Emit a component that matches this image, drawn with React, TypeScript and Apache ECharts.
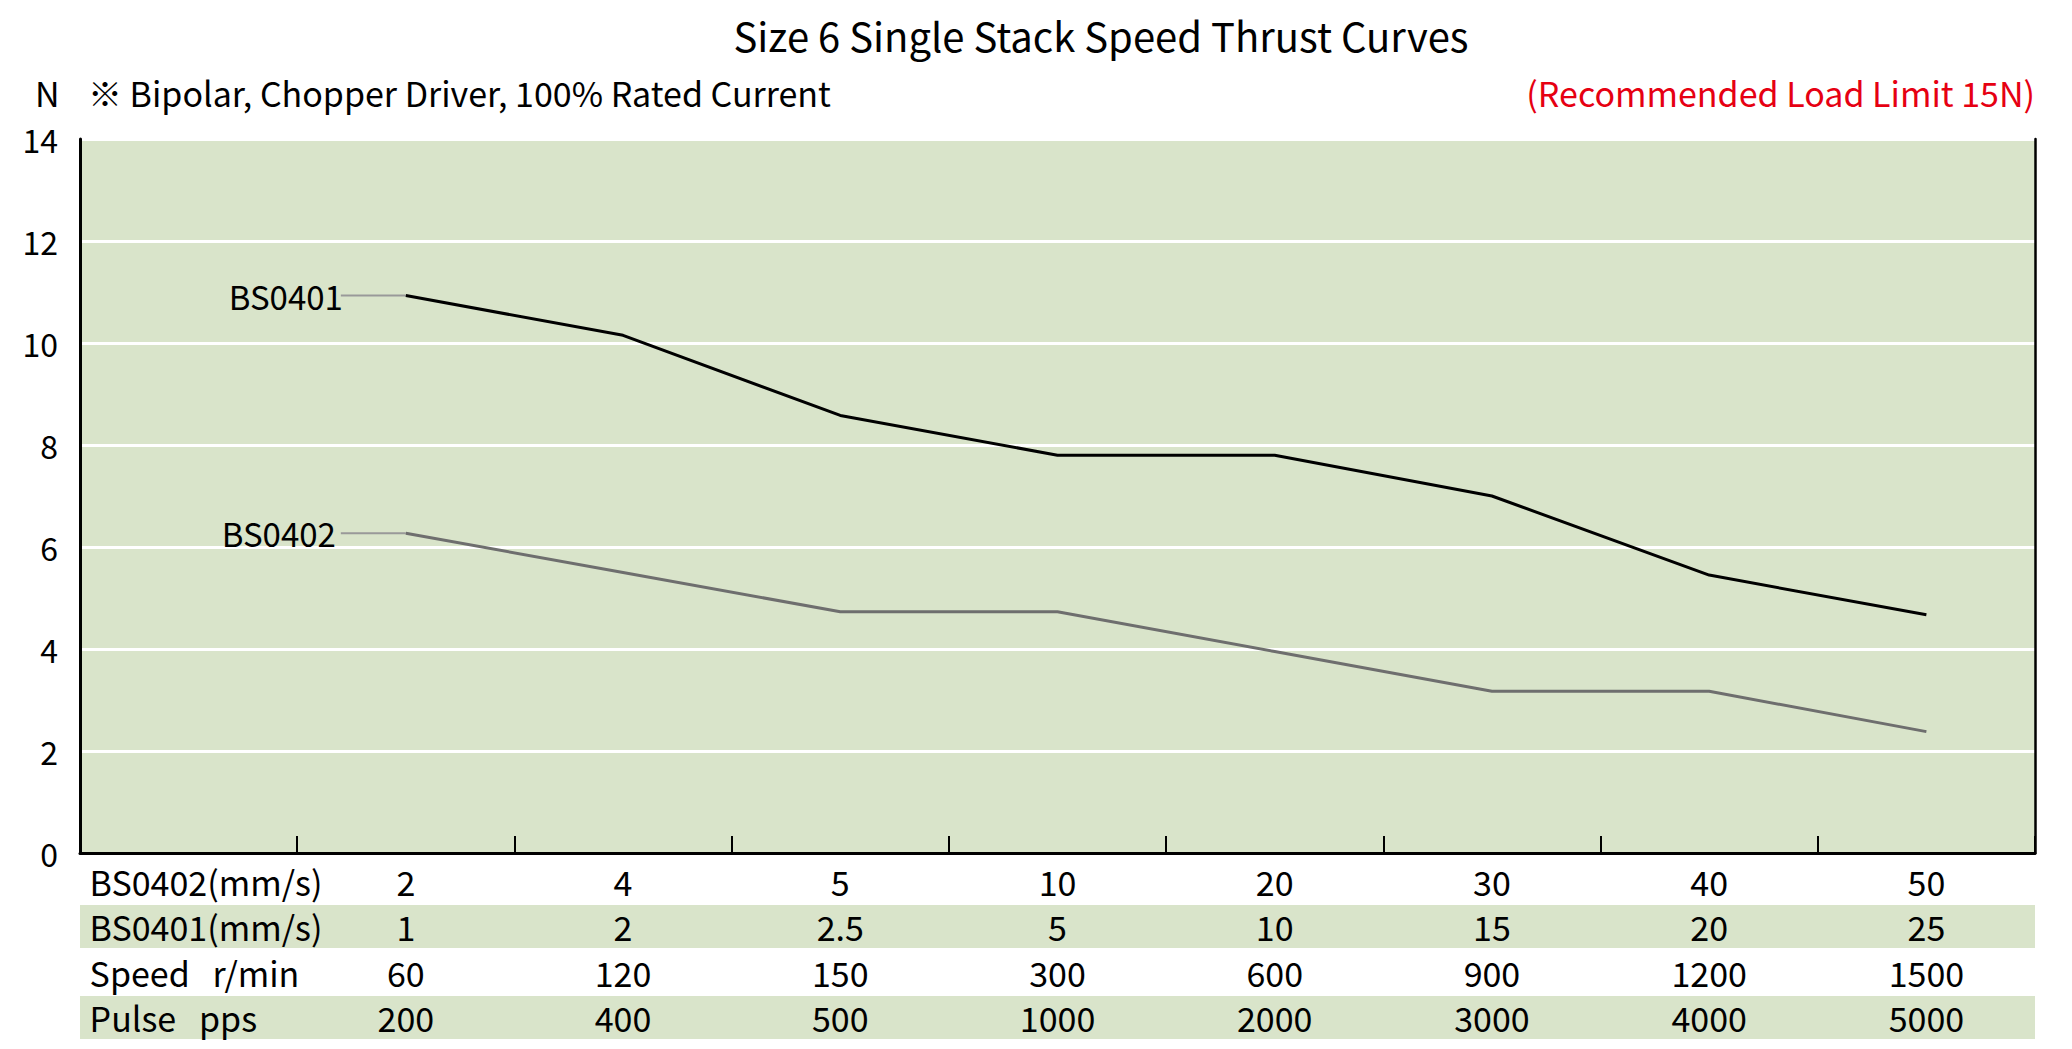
import React, { useEffect, useRef } from 'react';
import * as echarts from 'echarts';

const W = 2072;
const H = 1049;
const FONT = '"Noto Sans CJK SC", "Noto Sans", sans-serif';

const chartTitle = 'Size 6 Single Stack Speed Thrust Curves';
const yUnit = 'N';
const noteText = '※ Bipolar, Chopper Driver, 100% Rated Current';
const limitText = '(Recommended Load Limit 15N)';

const rowLabels = ['BS0402(mm/s)', 'BS0401(mm/s)', 'Speed   r/min', 'Pulse   pps'];
const bs0402Speeds = ['2', '4', '5', '10', '20', '30', '40', '50'];
const bs0401Speeds = ['1', '2', '2.5', '5', '10', '15', '20', '25'];
const speedRpm = ['60', '120', '150', '300', '600', '900', '1200', '1500'];
const pulsePps = ['200', '400', '500', '1000', '2000', '3000', '4000', '5000'];

const bs0401Thrust = [10.93, 10.15, 8.58, 7.8, 7.8, 7.0, 5.45, 4.67];
const bs0402Thrust = [6.27, 5.5, 4.73, 4.73, 3.95, 3.17, 3.17, 2.38];

const yTicks = [0, 2, 4, 6, 8, 10, 12, 14];

export default function App() {
  const ref = useRef<HTMLDivElement>(null);
  useEffect(() => {
    const chart = echarts.init(ref.current!, null, { renderer: 'svg' });
    const gridLeft = 80;
    const gridRight = 37;
    const gridTop = 139;
    const gridBottom = 196;
    const categories = ['label', ...pulsePps];
    const rows = [bs0402Speeds, bs0401Speeds, speedRpm, pulsePps];
    const rowPitch = 45.5;
    const fs = 32;
    const tfs = 34;
    const lh = 40;
    const labelMargin = 8;

    const xAxes = rows.map((vals, r) => ({
      type: 'category',
      data: categories,
      position: 'bottom',
      offset: r * rowPitch,
      boundaryGap: true,
      axisLine: r === 0 ? { show: true, lineStyle: { color: '#000', width: 3 } } : { show: false },
      axisTick: r === 0 ? { show: true, inside: true, length: 17, lineStyle: { color: '#000', width: 2 } } : { show: false },
      splitLine: { show: false },
      axisLabel: {
        show: true,
        interval: 0,
        margin: labelMargin,
        color: '#000',
        fontSize: tfs,
        fontFamily: FONT,
        lineHeight: lh,
        formatter: (_v: string, i: number) => (i === 0 ? `{h|${rowLabels[r]}}` : vals[i - 1]),
        rich: { h: { width: 198, align: 'left', fontSize: tfs, fontFamily: FONT, color: '#000', lineHeight: lh } },
      },
    }));

    chart.setOption({
      animation: false,
      backgroundColor: '#fff',
      grid: { left: gridLeft, right: gridRight, top: gridTop, bottom: gridBottom, show: true, backgroundColor: '#d9e4ca', borderWidth: 0 },
      xAxis: xAxes,
      yAxis: [
        {
          type: 'value',
          min: yTicks[0],
          max: yTicks[yTicks.length - 1],
          interval: 2,
          axisLine: { show: true, lineStyle: { color: '#000', width: 3 } },
          axisTick: { show: false },
          splitLine: { show: true, lineStyle: { color: '#fff', width: 3 } },
          axisLabel: { color: '#000', fontSize: fs, fontFamily: FONT, margin: 22 },
        },
        {
          type: 'value',
          position: 'right',
          min: yTicks[0],
          max: yTicks[yTicks.length - 1],
          interval: 2,
          axisLine: { show: true, lineStyle: { color: '#000', width: 2.5 } },
          axisTick: { show: false },
          splitLine: { show: false },
          axisLabel: { show: false },
        },
      ],
      series: [
        {
          type: 'line',
          name: 'BS0401',
          xAxisIndex: 0,
          yAxisIndex: 0,
          data: ['-', ...bs0401Thrust],
          symbol: 'none',
          color: '#000',
          lineStyle: { color: '#000', width: 3 },
        },
        {
          type: 'line',
          name: 'BS0402',
          xAxisIndex: 0,
          yAxisIndex: 0,
          data: ['-', ...bs0402Thrust],
          symbol: 'none',
          color: '#6e6e6e',
          lineStyle: { color: '#6e6e6e', width: 3 },
        },
      ],
    });

    const p1 = chart.convertToPixel({ seriesIndex: 0 }, [1, bs0401Thrust[0]]) as number[];
    const p2 = chart.convertToPixel({ seriesIndex: 1 }, [1, bs0402Thrust[0]]) as number[];
    const axisY = chart.convertToPixel({ yAxisIndex: 0 }, 0) as number;
    const leader = 65;
    const rowCenter = (r: number) => axisY + labelMargin + lh / 2 + r * rowPitch;

    const textStyle = (text: string, extra: any = {}) => ({
      text,
      fontSize: tfs,
      fontFamily: FONT,
      fill: '#000',
      textVerticalAlign: 'middle',
      ...extra,
    });

    chart.setOption({
      graphic: [
        ...[1, 3].map((r) => ({
          type: 'rect',
          z: -1,
          silent: true,
          shape: { x: gridLeft, y: rowCenter(r) - 21.5, width: W - gridRight - gridLeft, height: 43 },
          style: { fill: '#d9e4ca' },
        })),
        { type: 'line', shape: { x1: p1[0] - leader, y1: p1[1], x2: p1[0], y2: p1[1] }, style: { stroke: '#999', lineWidth: 2 } },
        { type: 'line', shape: { x1: p2[0] - leader, y1: p2[1], x2: p2[0], y2: p2[1] }, style: { stroke: '#999', lineWidth: 2 } },
        { type: 'text', x: p1[0] - leader + 2, y: p1[1], style: textStyle('BS0401', { textAlign: 'right', fontSize: 33 }) },
        { type: 'text', x: p2[0] - leader - 5, y: p2[1], style: textStyle('BS0402', { textAlign: 'right', fontSize: 33 }) },
        { type: 'text', x: 1101, y: 35, style: textStyle(chartTitle, { textAlign: 'center', fontSize: 40 }) },
        { type: 'text', x: 35, y: 92, style: textStyle(yUnit, { textAlign: 'left' }) },
        { type: 'text', x: 88, y: 92, style: textStyle(noteText, { textAlign: 'left' }) },
        { type: 'text', x: W - gridRight, y: 92, style: textStyle(limitText, { textAlign: 'right', fill: '#e60012' }) },
      ],
    });

    return () => chart.dispose();
  }, []);
  return <div ref={ref} style={{ position: 'absolute', left: 0, top: 0, width: W, height: H }} />;
}
